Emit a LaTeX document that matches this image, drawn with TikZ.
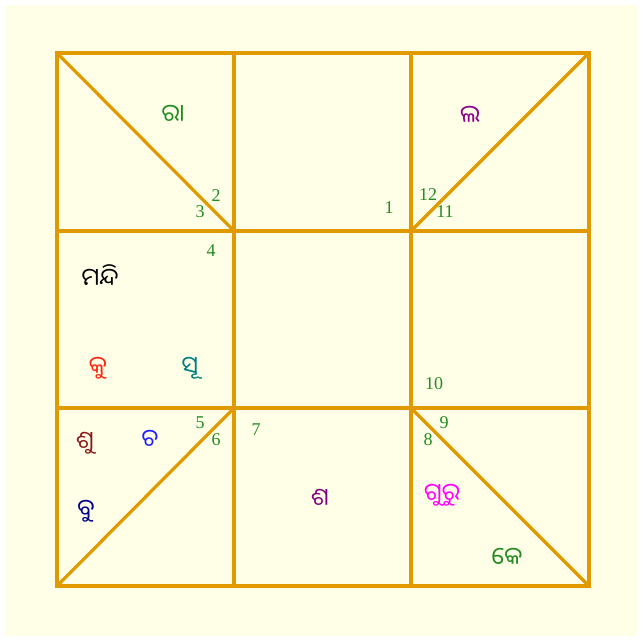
\documentclass[tikz,border=0pt]{standalone}
\usepackage{fontspec}
\setmainfont{Liberation Serif}
\newfontfamily\oriya[Script=Oriya]{Noto Sans Oriya UI}
\definecolor{bg}{RGB}{255,255,232}
\definecolor{grid}{RGB}{224,154,0}
\definecolor{numc}{RGB}{34,139,34}
\tikzset{
  gridline/.style={draw=grid, line width=3.2pt, line cap=round},
  num/.style={text=numc, font=\fontsize{18}{18}\selectfont, inner sep=0pt},
  planet/.style={font=\oriya\fontsize{24}{24}\selectfont, inner sep=0pt}
}
\begin{document}
\begin{tikzpicture}[x=1pt,y=-1pt]
\useasboundingbox (0,0) rectangle (643,641);
\fill[white] (0,0) rectangle (643,641);
\fill[bg] (5,5) rectangle (638,636);
% grid coordinates
\coordinate (a0) at (57,53);  \coordinate (a1) at (234,53);  \coordinate (a2) at (411,53);  \coordinate (a3) at (589,53);
\coordinate (b0) at (57,231); \coordinate (b1) at (234,231); \coordinate (b2) at (411,231); \coordinate (b3) at (589,231);
\coordinate (c0) at (57,408); \coordinate (c1) at (234,408); \coordinate (c2) at (411,408); \coordinate (c3) at (589,408);
\coordinate (d0) at (57,586); \coordinate (d1) at (234,586); \coordinate (d2) at (411,586); \coordinate (d3) at (589,586);
\draw[gridline] (a0) rectangle (d3);
\draw[gridline] (a1) -- (d1);
\draw[gridline] (a2) -- (d2);
\draw[gridline] (b0) -- (b3);
\draw[gridline] (c0) -- (c3);
\draw[gridline] (a0) -- (b1);
\draw[gridline] (a3) -- (b2);
\draw[gridline] (d0) -- (c1);
\draw[gridline] (c2) -- (d3);
% house numbers
\node[num] (n1) at (389,208) {1};
\node[num] (n2) at (216,196) {2};
\node[num] (n3) at (200,212) {3};
\node[num] (n4) at (211,251) {4};
\node[num] (n5) at (200,423) {5};
\node[num] (n6) at (216,440) {6};
\node[num] (n7) at (256,430) {7};
\node[num] (n8) at (428,440) {8};
\node[num] (n9) at (444,423) {9};
\node[num] (n10) at (434,384) {10};
\node[num] (n11) at (445,212) {11};
\node[num] (n12) at (428,195) {12};
% planets
\node[planet, text={rgb,255:red,34;green,139;blue,34}] (ra) at (173,114) {ରା};
\node[planet, text={rgb,255:red,139;green,0;blue,139}] (la) at (470,115) {ଲ};
\node[planet, text=black] (md) at (100,276) {ମନ୍ଦି};
\node[planet, text={rgb,255:red,255;green,40;blue,20}] (ku) at (98,368) {କୁ};
\node[planet, text={rgb,255:red,0;green,128;blue,128}] (su) at (190,368) {ସୂ};
\node[planet, text={rgb,255:red,139;green,26;blue,26}] (sk) at (85,443) {ଶୁ};
\node[planet, text={rgb,255:red,30;green,30;blue,255}] (ch) at (150,439) {ଚ};
\node[planet, text={rgb,255:red,0;green,0;blue,139}] (bu) at (86,511) {ବୁ};
\node[planet, text={rgb,255:red,128;green,0;blue,128}] (sa) at (320,498) {ଶ};
\node[planet, text={rgb,255:red,255;green,0;blue,255}] (gu) at (442,495) {ଗୁରୁ};
\node[planet, text={rgb,255:red,34;green,139;blue,34}] (ke) at (507,557) {କେ};
\end{tikzpicture}
\end{document}
